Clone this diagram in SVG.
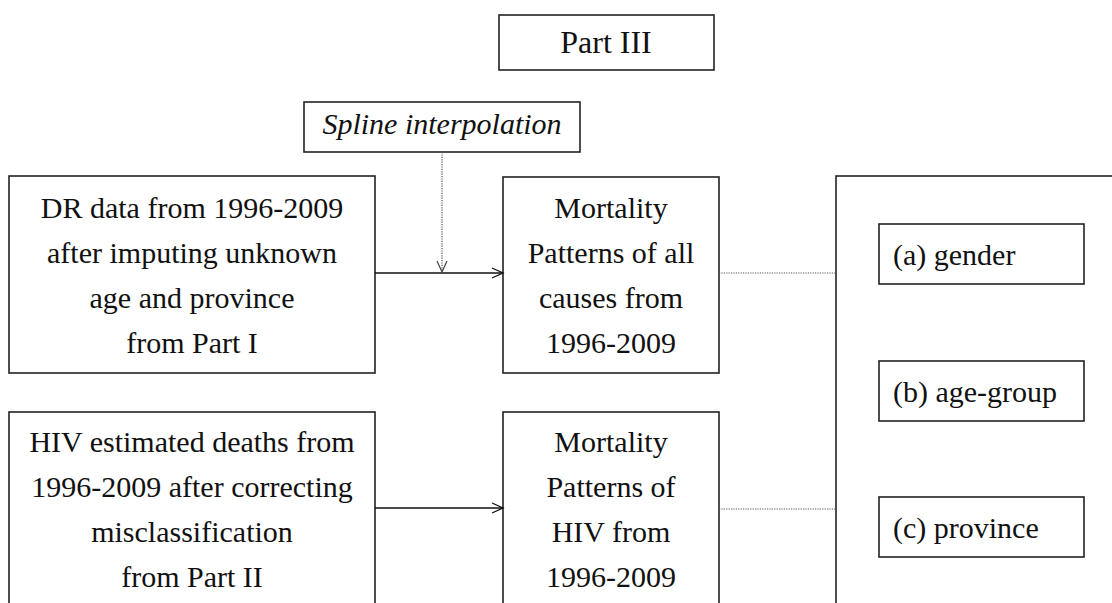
<svg xmlns="http://www.w3.org/2000/svg" width="1112" height="603" viewBox="0 0 1112 603">
<defs>
<style>
.box{fill:#fff;stroke:#222;stroke-width:1.6}
.t{font-family:"Liberation Serif","Times New Roman",serif;font-size:30px;fill:#111}
.c{text-anchor:middle}
.solid{stroke:#111;stroke-width:1.4;fill:none}
.dot{stroke:#555;stroke-width:1.2;stroke-dasharray:1.2 1.2;fill:none}
</style>
<marker id="arr" markerWidth="14" markerHeight="12" refX="12" refY="6" orient="auto" markerUnits="userSpaceOnUse">
<path d="M1,1 L12,6 L1,11" fill="none" stroke="#111" stroke-width="1.3"/>
</marker>
<marker id="arrg" markerWidth="14" markerHeight="12" refX="12" refY="6" orient="auto" markerUnits="userSpaceOnUse">
<path d="M1,1 L12,6 L1,11" fill="none" stroke="#444" stroke-width="1.2"/>
</marker>
</defs>
<rect width="1112" height="603" fill="#fff"/>
<g id="part3">
<rect class="box" x="499" y="15" width="215" height="55"/>
<text class="t c" x="606" y="53" style="font-size:32px">Part III</text>
</g>
<g id="spline">
<rect class="box" x="304" y="102" width="276" height="50"/>
<text class="t c" x="442" y="134" font-style="italic">Spline interpolation</text>
</g>
<g id="dr">
<rect class="box" x="9" y="176" width="366" height="197"/>
<text class="t c" x="192" y="218">DR data from 1996-2009</text>
<text class="t c" x="192" y="263">after imputing unknown</text>
<text class="t c" x="192" y="308">age and province</text>
<text class="t c" x="192" y="353">from Part I</text>
</g>
<g id="mort1">
<rect class="box" x="503" y="177" width="216" height="196"/>
<text class="t c" x="611" y="218">Mortality</text>
<text class="t c" x="611" y="263">Patterns of all</text>
<text class="t c" x="611" y="308">causes from</text>
<text class="t c" x="611" y="353">1996-2009</text>
</g>
<g id="hiv">
<rect class="box" x="9" y="412" width="366" height="300"/>
<text class="t c" x="192" y="452">HIV estimated deaths from</text>
<text class="t c" x="192" y="497">1996-2009 after correcting</text>
<text class="t c" x="192" y="542">misclassification</text>
<text class="t c" x="192" y="587">from Part II</text>
</g>
<g id="mort2">
<rect class="box" x="503" y="412" width="216" height="300"/>
<text class="t c" x="611" y="452">Mortality</text>
<text class="t c" x="611" y="497">Patterns of</text>
<text class="t c" x="611" y="542">HIV from</text>
<text class="t c" x="611" y="587">1996-2009</text>
</g>
<g id="right">
<rect class="box" x="836" y="176" width="400" height="500"/>
</g>
<g id="gender">
<rect class="box" x="879" y="224" width="205" height="60"/>
<text class="t" x="893" y="265">(a) gender</text>
</g>
<g id="agegroup">
<rect class="box" x="879" y="361" width="205" height="60"/>
<text class="t" x="893" y="402">(b) age-group</text>
</g>
<g id="province">
<rect class="box" x="879" y="497" width="205" height="60"/>
<text class="t" x="893" y="538">(c) province</text>
</g>
<g id="connectors">
<line class="solid" x1="375" y1="273" x2="503" y2="273" marker-end="url(#arr)"/>
<line class="solid" x1="375" y1="508" x2="503" y2="508" marker-end="url(#arr)"/>
<line class="dot" x1="442" y1="152" x2="442" y2="272" marker-end="url(#arrg)"/>
<line class="dot" x1="719" y1="273" x2="836" y2="273"/>
<line class="dot" x1="719" y1="509" x2="836" y2="509"/>
</g>
</svg>
